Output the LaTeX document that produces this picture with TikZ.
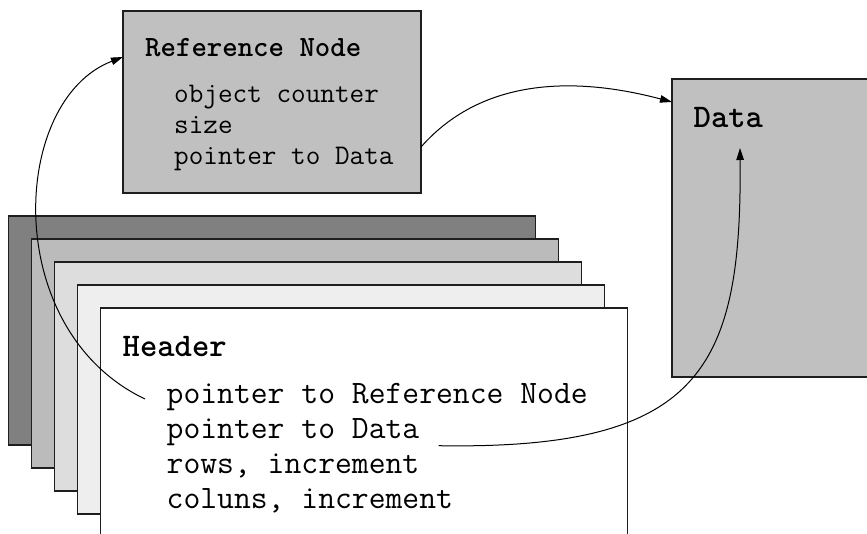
\documentclass[tikz,border=0pt]{standalone}
\usepackage{fontspec}
\usetikzlibrary{arrows.meta,calc}
\definecolor{edgec}{HTML}{1E1E1E}
\definecolor{gA}{HTML}{808080}
\definecolor{gB}{HTML}{BBBBBB}
\definecolor{gC}{HTML}{DDDDDD}
\definecolor{gD}{HTML}{EEEEEE}
\definecolor{gBox}{HTML}{C0C0C0}
\begin{document}
\begin{tikzpicture}[x=1pt,y=-1pt,
  sheet/.style={draw=edgec, line width=1.5pt, anchor=north west, inner sep=0pt, outer sep=0pt},
  bigtxt/.style={anchor=base west, inner sep=0pt, font=\ttfamily\fontsize{32.7}{38}\selectfont},
  bigbold/.style={anchor=base west, inner sep=0pt, font=\ttfamily\bfseries\fontsize{33}{38}\selectfont},
  smalltxt/.style={anchor=base west, inner sep=0pt, font=\ttfamily\fontsize{28.4}{33}\selectfont},
  smallbold/.style={anchor=base west, inner sep=0pt, font=\ttfamily\bfseries\fontsize{29.4}{33}\selectfont},
  conn/.style={draw=black, line width=1pt, -{Triangle[length=12pt,width=7.5pt]}}
]
\useasboundingbox (0,0) rectangle (867,534);
\clip (0,0) rectangle (867,534);
\fill[white] (0,0) rectangle (867,534);

% reference node box
\node[sheet, fill=gBox, minimum width=298pt, minimum height=182pt] (ref) at (123,11) {};
% data box
\node[sheet, fill=gBox, minimum width=220pt, minimum height=298pt] (data) at (672,79) {};

% stacked sheets
\node[sheet, fill=gA, minimum width=527pt, minimum height=229pt] (s1) at (8.5,216) {};
\node[sheet, fill=gB, minimum width=527pt, minimum height=229pt] (s2) at (31.5,239) {};
\node[sheet, fill=gC, minimum width=527pt, minimum height=229pt] (s3) at (54.5,262) {};
\node[sheet, fill=gD, minimum width=527pt, minimum height=229pt] (s4) at (77.5,285) {};
\node[sheet, fill=white, minimum width=527pt, minimum height=250pt] (hdr) at (100.5,308) {};

% texts in reference node
\node[smallbold] (rtitle) at (145,56.7) {Reference Node};
\node[smalltxt] (r1) at (174,102.7) {object counter};
\node[smalltxt] (r2) at (174,133.5) {size};
\node[smalltxt] (r3) at (174,164.5) {pointer to Data};

% data title
\node[bigbold] (dtitle) at (693.5,128) {Data};

% header texts
\node[bigbold] (htitle) at (122.5,356.7) {Header};
\node[bigtxt] (h1) at (166.5,403) {pointer to Reference Node};
\node[bigtxt] (h2) at (166.5,438.3) {pointer to Data};
\node[bigtxt] (h3) at (166.5,473.3) {rows, increment};
\node[bigtxt] (h4) at (166.5,508.3) {coluns, increment};

% connectors
\coordinate (c1s) at ($(h1.base west)+(-21.5,-4)$);
\coordinate (c1e) at ($(ref.north west)+(0,46)$);
\draw[conn] (c1s) .. controls (0,330) and (10,100) .. (c1e);

\coordinate (c2s) at ($(ref.north east)+(0,136)$);
\coordinate (c2e) at ($(data.north west)+(0,23)$);
\draw[conn] (c2s) .. controls (480,80) and (570,75) .. (c2e);

\coordinate (c3s) at ($(h2.base east)+(19,7.4)$);
\coordinate (c3e) at ($(data.north west)+(68,69)$);
\draw[conn] (c3s) .. controls (700,450) and (742,370) .. (c3e);
\end{tikzpicture}
\end{document}
